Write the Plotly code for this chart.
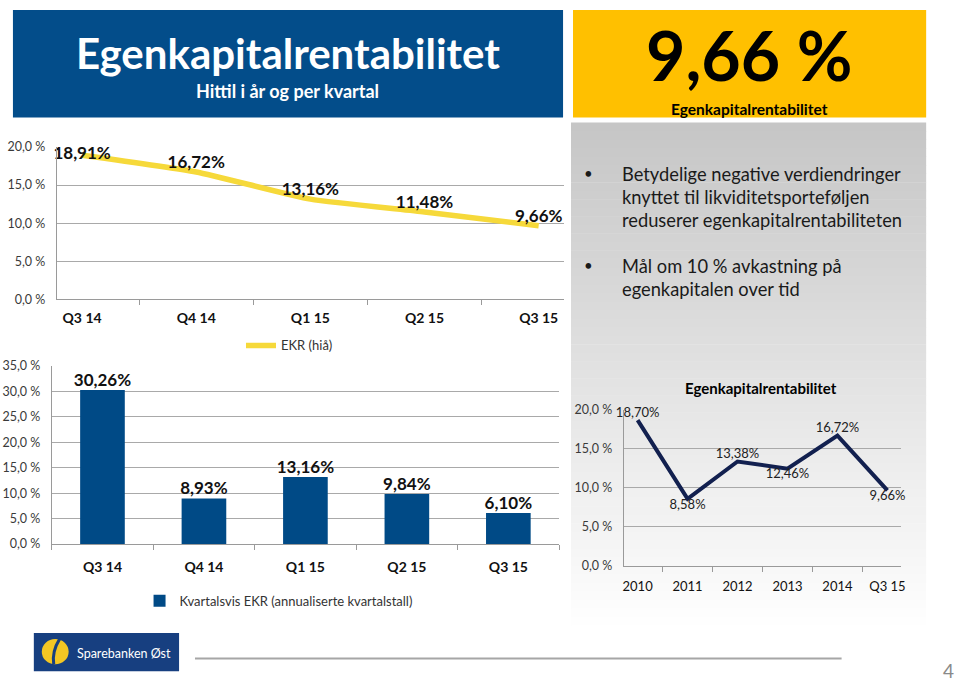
import plotly.graph_objects as go

# ---------------- data ----------------
quarters = ["Q3 14", "Q4 14", "Q1 15", "Q2 15", "Q3 15"]
ekr_hia = [18.91, 16.72, 13.16, 11.48, 9.66]
ekr_hia_label_pos = ["middle center", "top center", "top center",
                     "top center", "top center"]
ekr_kvartal = [30.26, 8.93, 13.16, 9.84, 6.10]
years = ["2010", "2011", "2012", "2013", "2014", "Q3 15"]
ekr_year = [18.70, 8.58, 13.38, 12.46, 16.72, 9.66]
year_label_pos = ["top center", "bottom center", "top center",
                  "bottom center", "top center", "bottom center"]

headline_value = "9,66 %"
title_text = "Egenkapitalrentabilitet"
subtitle_text = "Hittil i år og per kvartal"
bullet_1 = ["Betydelige negative verdiendringer",
            "knyttet til likviditetsporteføljen",
            "reduserer egenkapitalrentabiliteten"]
bullet_2 = ["Mål om 10 % avkastning på", "egenkapitalen over tid"]
line_name = "EKR (hiå)"
bar_name = "Kvartalsvis EKR (annualiserte kvartalstall)"

# ---------------- styling ----------------
W, H = 960, 687
FONT = "Lato"
BLUE = "#034d8a"
BAR_BLUE = "#004a86"
GOLD = "#ffc000"
YELLOW_LINE = "#f6d93a"
NAVY = "#12204f"
GRID = "#a9a9a9"
AXIS = "#9a9a9a"


def px(x):
    return x / W


def py(y):
    return 1 - y / H


fig = go.Figure()

# ---- top chart: EKR hittil i år ----
fig.add_trace(go.Scatter(
    x=quarters, y=ekr_hia, mode="lines", name=line_name,
    line=dict(color=YELLOW_LINE, width=5.5, shape="spline", smoothing=0.5),
    xaxis="x", yaxis="y", legend="legend", hoverinfo="skip"))
fig.add_trace(go.Scatter(
    x=quarters, y=ekr_hia, mode="text", showlegend=False,
    texttemplate="%{y:.2f}%", textposition=ekr_hia_label_pos,
    marker=dict(size=38),
    textfont=dict(family=FONT, size=17, color="#111111", weight="bold"),
    cliponaxis=False, xaxis="x", yaxis="y", hoverinfo="skip"))

# ---- bar chart: kvartalsvis EKR ----
fig.add_trace(go.Bar(
    x=quarters, y=ekr_kvartal, name=bar_name, width=0.44,
    marker=dict(color=BAR_BLUE, line=dict(width=0)),
    xaxis="x2", yaxis="y2", legend="legend2", hoverinfo="skip"))
fig.add_trace(go.Scatter(
    x=quarters, y=ekr_kvartal, mode="text", showlegend=False,
    texttemplate="%{y:.2f}%", textposition="top center",
    marker=dict(size=34),
    textfont=dict(family=FONT, size=17, color="#111111", weight="bold"),
    cliponaxis=False, xaxis="x2", yaxis="y2", hoverinfo="skip"))

# ---- bottom right: yearly EKR ----
fig.add_trace(go.Scatter(
    x=years, y=ekr_year, mode="lines+text", showlegend=False,
    line=dict(color=NAVY, width=4),
    marker=dict(size=10),
    texttemplate="%{y:.2f}%", textposition=year_label_pos,
    textfont=dict(family=FONT, size=13, color="#222222"),
    cliponaxis=False, xaxis="x3", yaxis="y3", hoverinfo="skip"))

# ---------------- decorative shapes ----------------
shapes = []
shapes.append(dict(type="rect", xref="paper", yref="paper",
                   x0=px(12), x1=px(565), y0=py(112), y1=py(2),
                   fillcolor=BLUE, line=dict(width=0), layer="below"))
shapes.append(dict(type="rect", xref="paper", yref="paper",
                   x0=px(575), x1=px(930), y0=py(112), y1=py(2),
                   fillcolor=GOLD, line=dict(width=0), layer="below"))
n_bands = 60
top, bottom = 117, 640
for i in range(n_bands):
    y0 = top + (bottom - top) * i / n_bands
    y1 = top + (bottom - top) * (i + 1) / n_bands
    t = i / (n_bands - 1)
    g = int(round(198 + (255 - 198) * t))
    shapes.append(dict(type="rect", xref="paper", yref="paper",
                       x0=px(573), x1=px(930), y0=py(y1 + 0.5), y1=py(y0),
                       fillcolor=f"rgb({g},{g},{g})", line=dict(width=0),
                       layer="below"))
shapes.append(dict(type="line", xref="paper", yref="paper",
                   x0=px(195), x1=px(845), y0=py(665), y1=py(665),
                   line=dict(color="#a6a6a6", width=2)))
shapes.append(dict(type="rect", xref="paper", yref="paper",
                   x0=px(33), x1=px(179), y0=py(678), y1=py(639),
                   fillcolor="#173f80", line=dict(width=0)))
shapes.append(dict(type="circle", xref="paper", yref="paper",
                   x0=px(41), x1=px(68), y0=py(671), y1=py(645),
                   fillcolor="#f3c623", line=dict(width=0)))
shapes.append(dict(type="path", xref="paper", yref="paper",
                   path=f"M {px(59)} {py(645)} Q {px(51)} {py(658)} {px(53)} {py(671)}",
                   line=dict(color="#173f80", width=3)))
fig.update_layout(shapes=shapes)

# ---------------- annotations ----------------
ann = []


def text(x, y, s, size, color="#000000", bold=False, xanchor="center",
         align="center"):
    ann.append(dict(xref="paper", yref="paper", x=px(x), y=py(y), text=s,
                    showarrow=False, xanchor=xanchor, yanchor="middle",
                    align=align,
                    font=dict(family=FONT, size=size, color=color,
                              weight="bold" if bold else "normal")))


text(288, 46, title_text, 42, "#ffffff", bold=True)
text(288, 85, subtitle_text, 18, "#ffffff", bold=True)
text(752, 48, headline_value, 68, "#000000", bold=True)
text(752, 103, title_text, 15.5, "#000000", bold=True)

for i, line in enumerate(bullet_1):
    text(622, 170 + i * 23.3, line, 18.3, "#1a1a1a", xanchor="left")
for i, line in enumerate(bullet_2):
    text(622, 264 + i * 23.3, line, 18.3, "#1a1a1a", xanchor="left")
text(591, 169, "•", 15, "#1a1a1a")
text(591, 263, "•", 15, "#1a1a1a")

text(764, 388, title_text, 15, "#000000", bold=True)
text(74, 660, "Sparebanken Øst", 12.5, "#ffffff", xanchor="left")
text(952, 677, "4", 19, "#8a8a8a")
fig.update_layout(annotations=ann)

# ---------------- axes ----------------
ytick = dict(tickformat=".1f", ticksuffix=" %", dtick=5, showgrid=True,
             gridcolor=GRID, gridwidth=1, showline=True, linecolor=AXIS,
             zeroline=False, ticks="",
             tickfont=dict(family=FONT, size=12.5, color="#3a3a3a"))
xcat = dict(type="category", showgrid=False, showline=True, linecolor=AXIS,
            ticks="outside", tickson="boundaries", ticklen=5, tickcolor=AXIS,
            zeroline=False)

fig.update_layout(
    xaxis=dict(domain=[px(56), px(566)], anchor="y",
               tickfont=dict(family=FONT, size=14, color="#111111",
                             weight="bold"),
               ticklabelstandoff=6, **xcat),
    yaxis=dict(domain=[py(298), py(142)], range=[0, 20], anchor="x",
               ticklabelstandoff=8, **ytick),
    xaxis2=dict(domain=[px(51), px(561)], anchor="y2",
                tickfont=dict(family=FONT, size=14, color="#111111",
                              weight="bold"),
                ticklabelstandoff=10, **xcat),
    yaxis2=dict(domain=[py(548), py(366)], range=[0, 35], anchor="x2",
                ticklabelstandoff=8, **ytick),
    xaxis3=dict(domain=[px(626), px(905)], anchor="y3",
                tickfont=dict(family=FONT, size=13, color="#111111"),
                ticklabelstandoff=9, **xcat),
    yaxis3=dict(domain=[py(570), py(411)], range=[0, 20], anchor="x3",
                ticklabelstandoff=8, **ytick),
)

fig.update_layout(
    width=W, height=H, autosize=False,
    margin=dict(l=0, r=0, t=0, b=0),
    paper_bgcolor="#ffffff", plot_bgcolor="rgba(0,0,0,0)",
    separators=", ",
    font=dict(family=FONT, color="#222222"),
    legend=dict(x=px(290), y=py(345), xanchor="center", yanchor="middle",
                orientation="h", bgcolor="rgba(0,0,0,0)",
                font=dict(family=FONT, size=13, color="#333333"),
                itemwidth=30),
    legend2=dict(x=px(279), y=py(606), xanchor="center", yanchor="middle",
                 orientation="h", bgcolor="rgba(0,0,0,0)",
                 font=dict(family=FONT, size=13, color="#333333"),
                 itemwidth=30),
    bargap=0.56,
)

fig.write_html(
    "out.html",
    config={"displayModeBar": False},
    post_script="document.body.style.margin='0';document.body.style.padding='0';",
)
